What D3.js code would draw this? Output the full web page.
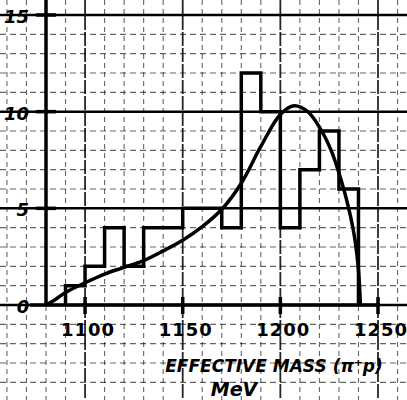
<!DOCTYPE html>
<html>
<head>
<meta charset="utf-8">
<script src="https://cdn.jsdelivr.net/npm/d3@7"></script>
<style>
  body { margin: 0; background: #fff; }
  svg { display: block; }
</style>
</head>
<body>
<script>
// histogram bins (10 MeV wide) and counts
var binStarts = [1090, 1100, 1110, 1120, 1130, 1140, 1150, 1160, 1170, 1180, 1190, 1200, 1210, 1220, 1230];
var counts    = [1, 2, 4, 2, 4, 4, 5, 5, 4, 12, 10, 4, 7, 9, 6];
var binWidth = 10;

// fitted curve
var curveMass  = [1080, 1085, 1090, 1100, 1110, 1120, 1130, 1140, 1150, 1160, 1170, 1180, 1190, 1200, 1207, 1214, 1220, 1226, 1231, 1235, 1238, 1240, 1241];
var curveValue = [0, 0.3, 0.65, 1.15, 1.6, 1.95, 2.3, 2.8, 3.35, 4.05, 4.95, 6.3, 8.2, 9.85, 10.3, 10.0, 9.2, 8.0, 6.5, 5.0, 3.5, 1.8, 0];

var xTicks = [1100, 1150, 1200, 1250];
var yTicks = [0, 5, 10, 15];

var width = 407, height = 400;

var svg = d3.select("body").append("svg")
    .attr("width", width)
    .attr("height", height);

var x = d3.scaleLinear().domain([1080, 1250]).range([46, 378]);
var y = d3.scaleLinear().domain([0, 15]).range([305, 15]);

// graph paper grid
var gridX = d3.range(1060, 1261, 10);
var gridY = d3.range(-4, 16, 1);

svg.append("g").selectAll("line")
  .data(gridX)
  .enter().append("line")
    .attr("x1", function(d) { return x(d); })
    .attr("x2", function(d) { return x(d); })
    .attr("y1", 0)
    .attr("y2", height)
    .attr("stroke", "#000")
    .attr("stroke-width", function(d) { return d % 50 === 0 ? 1.8 : 1.1; })
    .attr("stroke-dasharray", function(d) { return d % 50 === 0 ? "14,2" : "5,4"; })
    .attr("opacity", function(d) { return d % 50 === 0 ? 0.85 : 0.6; });

svg.append("g").selectAll("line")
  .data(gridY)
  .enter().append("line")
    .attr("x1", 0)
    .attr("x2", width)
    .attr("y1", function(d) { return y(d); })
    .attr("y2", function(d) { return y(d); })
    .attr("stroke", "#000")
    .attr("stroke-width", function(d) { return d % 5 === 0 ? 2.5 : 1.1; })
    .attr("stroke-dasharray", function(d) { return d % 5 === 0 ? null : "6,4"; })
    .attr("opacity", function(d) { return d % 5 === 0 ? 1 : 0.6; });

// axes
svg.append("line")
  .attr("x1", x(1080)).attr("x2", x(1080))
  .attr("y1", 0).attr("y2", y(0))
  .attr("stroke", "#000").attr("stroke-width", 3.5);

svg.append("line")
  .attr("x1", 30).attr("x2", x(1250) + 2)
  .attr("y1", y(0)).attr("y2", y(0))
  .attr("stroke", "#000").attr("stroke-width", 3.5);

// x ticks
svg.append("g").selectAll("line")
  .data(xTicks)
  .enter().append("line")
    .attr("x1", function(d) { return x(d); })
    .attr("x2", function(d) { return x(d); })
    .attr("y1", y(0) - 8)
    .attr("y2", y(0) + 9)
    .attr("stroke", "#000")
    .attr("stroke-width", 3.5);

// y ticks
svg.append("g").selectAll("line")
  .data(yTicks.slice(1))
  .enter().append("line")
    .attr("x1", x(1080) - 10)
    .attr("x2", x(1080) + 10)
    .attr("y1", function(d) { return y(d); })
    .attr("y2", function(d) { return y(d); })
    .attr("stroke", "#000")
    .attr("stroke-width", 3.5);

var hand = "'DejaVu Sans', sans-serif";

svg.append("g").selectAll("text")
  .data(xTicks)
  .enter().append("text")
    .attr("x", function(d) { return x(d) + 3; })
    .attr("y", y(0) + 31)
    .attr("text-anchor", "middle")
    .style("font-family", hand)
    .style("font-weight", "bold")
    .style("font-size", "18px")
    .style("letter-spacing", "1px")
    .text(function(d) { return d; });

svg.append("g").selectAll("text")
  .data(yTicks)
  .enter().append("text")
    .attr("x", function(d) { return d === 0 ? 23 : 29; })
    .attr("y", function(d) { return y(d) + 8; })
    .attr("text-anchor", function(d) { return d === 0 ? "middle" : "end"; })
    .style("font-family", hand)
    .style("font-weight", "bold")
    .style("font-style", "italic")
    .style("font-size", "18px")
    .text(function(d) { return d; });

// histogram outline
var histPts = [[binStarts[0], 0]];
binStarts.forEach(function(b, i) {
  histPts.push([b, counts[i]]);
  histPts.push([b + binWidth, counts[i]]);
});
histPts.push([binStarts[binStarts.length - 1] + binWidth, 0]);

var line = d3.line()
  .x(function(d) { return x(d[0]); })
  .y(function(d) { return y(d[1]); });

svg.append("path")
  .datum(histPts)
  .attr("d", line)
  .attr("fill", "none")
  .attr("stroke", "#000")
  .attr("stroke-width", 3.5)
  .attr("stroke-linejoin", "miter");

// fitted curve
var curvePts = curveMass.map(function(m, i) { return [m, curveValue[i]]; });
svg.append("path")
  .datum(curvePts)
  .attr("d", line.curve(d3.curveCatmullRom.alpha(0.5)))
  .attr("fill", "none")
  .attr("stroke", "#000")
  .attr("stroke-width", 3.5);

// axis title
svg.append("text")
  .attr("x", 274)
  .attr("y", 372)
  .attr("text-anchor", "middle")
  .style("font-family", hand)
  .style("font-weight", "bold")
  .style("font-style", "italic")
  .style("font-size", "17px")
  .text("EFFECTIVE MASS (π⁺p)");

svg.append("text")
  .attr("x", 234)
  .attr("y", 396)
  .attr("text-anchor", "middle")
  .style("font-family", hand)
  .style("font-weight", "bold")
  .style("font-style", "italic")
  .style("font-size", "19px")
  .text("MeV");
</script>
</body>
</html>
